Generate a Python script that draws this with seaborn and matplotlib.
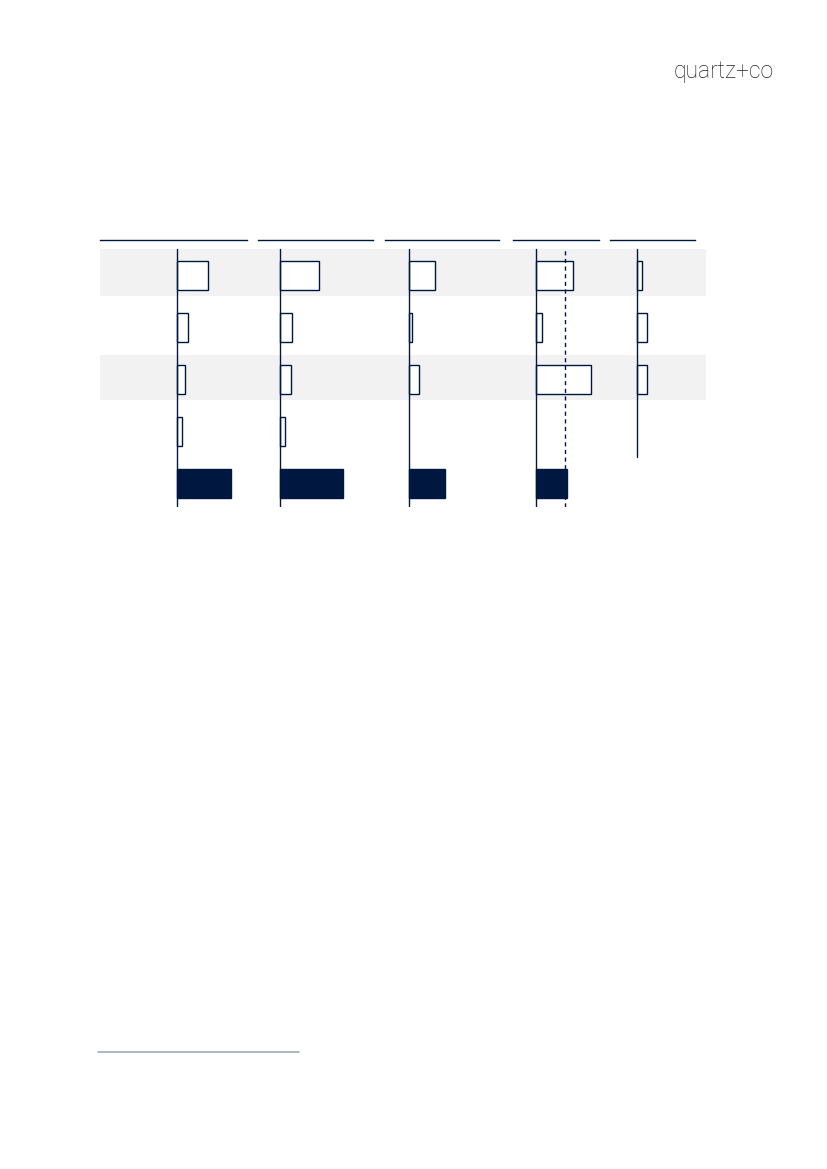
import matplotlib
matplotlib.use("Agg")
import matplotlib.pyplot as plt
import seaborn as sns
import pandas as pd
import numpy as np
from matplotlib.lines import Line2D

sns.set_theme(style="white")
plt.rcParams['font.family'] = ['Lato', 'DejaVu Sans']

NAVY = "#00173F"
BAND = "#F2F2F2"

# ---- data (bar lengths, arbitrary units) ----
rows = ["r1", "r2", "r3", "r4", "total"]
panel1 = [31.0, 11.0, 7.4, 4.3, 53.7]
panel2 = [38.3, 11.3, 10.3, 4.3, 62.7]
panel3 = [25.3, 2.3, 9.3, np.nan, 35.7]
panel4 = [36.3, 5.3, 54.3, np.nan, 30.7]
panel5 = [4.3, 9.3, 9.3, np.nan, np.nan]
panel4_ref = 29.0
panels = [panel1, panel2, panel3, panel4, panel5]

# ---- layout (pixels) ----
W, H = 827, 1169
fig = plt.figure(figsize=(W / 100, H / 100), dpi=100)

header_spans = [(100.3, 247.0), (258.0, 373.0), (385.0, 499.3), (513.3, 598.7), (610.0, 695.3)]
axis_x = [177.3, 280.3, 409.3, 536.3, 637.3]
top_px, bot_px = 240.0, 507.0
row0_px, row_step = 275.3, 52.0
ylim = ((bot_px - row0_px) / row_step, -(row0_px - top_px) / row_step)


def fig_rect(x0, x1, y0, y1):
    return [x0 / W, 1 - y1 / H, (x1 - x0) / W, (y1 - y0) / H]


# background bands
bg = fig.add_axes(fig_rect(100.0, 705.7, top_px, bot_px), zorder=0)
bg.set_xlim(0, 1)
bg.set_ylim(*ylim)
bg.axhspan(-0.5, 0.39, color=BAND, lw=0)
bg.axhspan(1.53, 2.40, color=BAND, lw=0)
bg.axis("off")

for i, (vals, (hx0, hx1), ax0) in enumerate(zip(panels, header_spans, axis_x)):
    ax = fig.add_axes(fig_rect(hx0, hx1, top_px, bot_px), zorder=2)
    ax.patch.set_alpha(0)
    df = pd.DataFrame({"row": rows, "value": vals}).dropna()
    colors = {r: ("white" if r != "total" else NAVY) for r in rows}
    sns.barplot(data=df, y="row", x="value", hue="row", order=rows,
                hue_order=rows, palette=colors, saturation=1, orient="h",
                width=0.56, edgecolor=NAVY, linewidth=1.0, legend=False,
                ax=ax, zorder=3)
    ax.set_xlim(-(ax0 - hx0), hx1 - ax0)
    ax.set_ylim(*ylim)
    for s in ["left", "right", "bottom"]:
        ax.spines[s].set_visible(False)
    ax.spines["top"].set_color(NAVY)
    ax.spines["top"].set_linewidth(1.0)
    ax.set_xticks([])
    ax.set_yticks([])
    ax.set_xlabel("")
    ax.set_ylabel("")
    ymax_frac = (bot_px - 249.0) / (bot_px - top_px)
    ymin_frac = 0.0 if i < 4 else (bot_px - 456.7) / (bot_px - top_px)
    ax.axvline(0, ymin=ymin_frac, ymax=ymax_frac, color=NAVY, lw=1.0, zorder=4)
    if i == 3:
        ax.axvline(panel4_ref, ymin=0, ymax=ymax_frac, color=NAVY, lw=1.0,
                   ls=(0, (3, 2.5)), zorder=4)

# footnote rule
fig.add_artist(Line2D([98.3 / W, 299.0 / W], [1 - 1051.7 / H] * 2,
                      color="#A0A9B8", lw=1.2))

# logo
fig.text(773.5 / W, 1 - 78.3 / H, "quartz+co", ha="right", va="baseline",
         fontsize=16.5, color="#222222", fontweight="light",
         family=["Roboto", "DejaVu Sans"])

fig.savefig("out.png", dpi=100)
